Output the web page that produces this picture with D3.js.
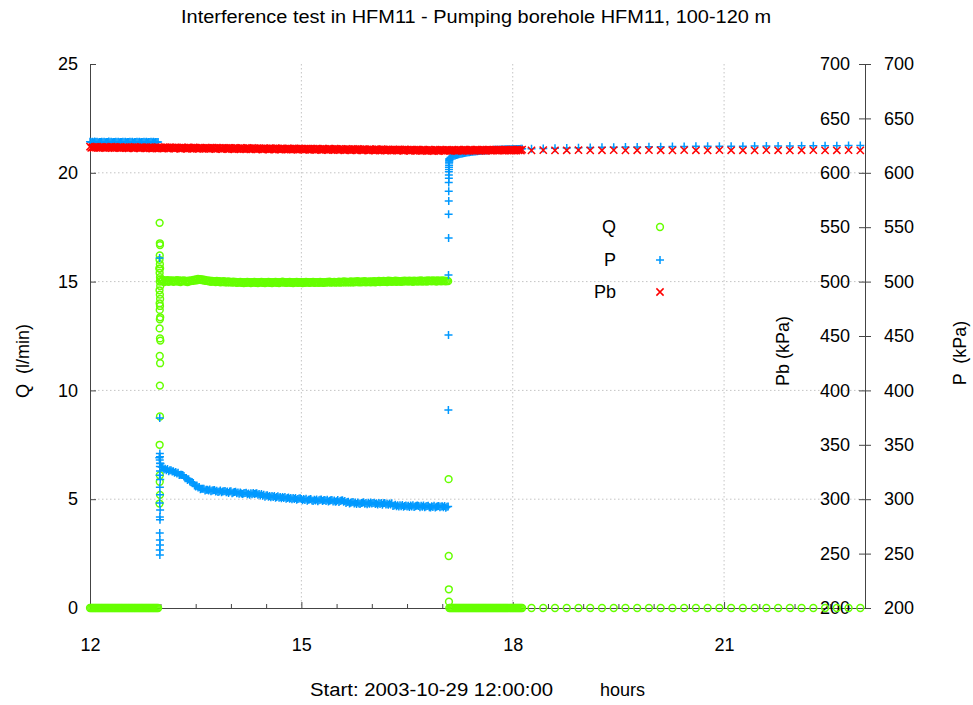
<!DOCTYPE html>
<html><head><meta charset="utf-8">
<script src="https://cdn.jsdelivr.net/npm/d3@7"></script>
<style>body{margin:0;background:#fff}svg text{white-space:pre}</style>
</head><body>
<svg id="c" width="973" height="705"></svg>
<script>
// ---------------- DATA ----------------
const titleText = "Interference test in HFM11 - Pumping borehole HFM11, 100-120 m";
const logStartHour = 12;            // dense log: one reading per minute from 12:00
const xTicks = [12, 15, 18, 21];
const xTickLabels = ["12", "15", "18", "21"];
const xMinorTicks = [12.5,13,13.5,14,14.5,15.5,16,16.5,17,17.5,18.5,19,19.5,20,20.5,21.5,22,22.5];
const qTicks = [0, 5, 10, 15, 20, 25];
const pTicks = [200, 250, 300, 350, 400, 450, 500, 550, 600, 650, 700];

// Q (l/min), one per minute 12:00 .. 18:08
const qDense = [
0,0,0,0,0,0,0,0,0,0, 0,0,0,0,0,0,0,0,0,0, 0,0,0,0,0,0,0,0,0,0,
0,0,0,0,0,0,0,0,0,0, 0,0,0,0,0,0,0,0,0,0, 0,0,0,0,0,0,0,0,0,
15.6,
15.10,15.02,15.08,14.98,15.06,15.01,15.07,14.99,15.05,15.02,
15.06,14.99,15.04,15.01,15.07,15.00,15.05,14.98,15.04,15.02,
15.05,15.00,15.03,14.98,15.04,15.01,15.06,15.03,15.08,15.05,
15.10,15.06,15.12,15.08,15.11,15.07,15.10,15.05,15.08,15.03,
15.06,15.01,15.04,14.99,15.03,15.00,15.02,14.98,15.03,14.99,
15.02,14.97,15.01,14.98,15.02,14.97,15.00,14.96,15.01,14.97,
14.99,14.95,15.00,14.96,14.99,14.94,14.98,14.95,14.99,14.94,
14.98,14.93,14.97,14.94,14.99,14.95,14.98,14.93,14.97,14.95,
14.99,14.94,14.97,14.93,14.98,14.95,14.99,14.94,14.97,14.93,
14.98,14.95,14.99,14.94,14.97,14.93,14.98,14.95,14.99,14.94,
14.97,14.93,14.98,14.96,15.00,14.95,14.98,14.94,14.97,14.95,
14.99,14.94,14.97,14.93,14.98,14.95,14.99,14.94,14.97,14.95,
14.98,14.93,14.97,14.94,14.99,14.95,14.98,14.94,14.97,14.96,
14.99,14.94,14.97,14.95,14.98,14.94,14.99,14.95,14.97,14.94,
14.98,14.95,14.99,14.96,15.00,14.95,14.98,14.96,14.99,14.95,
14.98,14.96,15.00,14.95,14.99,14.96,15.01,14.97,15.00,14.96,
14.99,14.97,15.01,14.96,15.00,14.97,15.01,14.98,15.02,14.97,
15.00,14.97,15.01,14.98,15.02,14.97,15.00,14.98,15.01,14.97,
15.01,14.98,15.02,14.97,15.01,14.99,15.03,14.98,15.02,14.99,
15.03,14.99,15.02,14.98,15.04,15.00,15.03,14.99,15.02,15.00,
15.04,14.99,15.03,15.00,15.02,14.99,15.03,15.00,15.04,15.01,
15.03,15.00,15.04,15.01,15.03,14.99,15.04,15.01,15.03,15.00,
15.04,15.01,15.05,15.00,15.03,15.01,15.04,15.00,15.05,15.02,
15.04,15.01,15.05,15.02,15.04,15.00,15.05,15.02,15.04,15.01,
15.05,15.02,15.04,15.01,15.03,
15.02,
0,0,0,0,0,0,0,0,0,0, 0,0,0,0,0,0,0,0,0,0, 0,0,0,0,0,0,0,0,0,0,
0,0,0,0,0,0,0,0,0,0, 0,0,0,0,0,0,0,0,0,0, 0,0,0,0,0,0,0,0,0,0, 0,0,0
];

// P (kPa), one per minute 12:00 .. 18:08
const pDense = [
628.6,628.0,628.5,628.1,628.7,628.2,628.5,627.9,628.4,628.2,
628.5,628.1,628.6,628.0,628.4,628.2,628.7,628.1,628.5,628.0,
628.4,628.2,628.6,628.0,628.5,628.1,628.4,628.2,628.6,628.1,
628.5,628.0,628.4,628.2,628.6,628.1,628.5,627.9,628.4,628.2,
628.6,628.1,628.5,628.0,628.4,628.2,628.6,628.1,628.5,628.0,
628.4,628.2,628.6,628.1,628.5,628.0,628.4,628.2,628.3,
338,
332.8,329.5,329.3,327.2,328.0,326.7,327.8,325.7,326.5,326.5,
325.5,325.8,324.2,325.0,323.7,324.3,322.2,322.5,322.5,322.3,
321.3,319.2,319.5,317.7,318.3,316.2,316.0,315.5,314.8,312.5,
311.7,312.5,310.7,311.3,309.2,309.5,309.5,309.6,308.1,308.8,
308.8,307.9,308.9,307.2,307.9,308.3,308.5,307.1,307.8,306.6,
307.0,308.0,306.3,307.0,307.4,307.6,306.3,307.0,305.8,307.0,
307.2,305.5,306.2,306.6,306.8,305.4,306.1,305.0,306.2,305.3,
304.7,305.4,305.8,306.0,304.6,305.3,304.2,305.4,304.6,305.6,
304.8,305.2,305.4,304.0,304.7,303.5,304.7,303.2,304.0,302.2,
303.4,303.6,302.2,302.9,301.7,302.9,302.0,303.0,301.3,302.0,
302.7,301.3,302.0,300.8,302.0,301.1,302.1,300.4,301.1,301.5,
300.4,301.1,299.9,301.1,300.2,301.2,299.5,300.2,300.6,300.8,
300.2,299.0,300.2,299.3,300.3,298.6,299.4,299.8,300.1,298.7,
298.4,299.6,298.8,299.8,298.2,299.0,299.4,299.7,298.3,299.1,
299.3,298.4,299.5,297.8,298.6,299.1,299.3,298.0,298.8,297.6,
298.1,299.2,297.5,298.3,298.7,299.0,297.6,298.3,296.4,297.5,
297.7,296.0,296.8,297.2,297.5,296.1,296.9,295.7,297.0,296.1,
295.6,296.4,296.8,297.1,295.8,296.5,295.4,296.7,295.8,296.9,
296.1,296.5,296.8,295.5,296.2,295.1,296.4,295.5,296.6,295.0,
296.2,296.5,295.1,295.9,294.8,296.0,295.2,296.3,293.7,294.3,
295.0,293.6,294.4,293.2,294.5,293.6,294.7,293.1,293.8,294.3,
293.3,294.0,292.9,294.2,293.3,294.4,292.8,293.5,294.0,294.3,
293.7,292.6,293.9,293.0,294.1,292.5,293.3,293.7,294.0,292.7,
292.4,293.6,292.8,293.9,292.3,293.0,293.5,293.8,292.5,293.3,
293.5,292.7,293.8,292.2,293.0,
293.2,
613.0,614.0,614.6,615.1,615.6,616.0,616.4,616.7,617.0,617.3,
617.6,617.8,618.0,618.2,618.4,618.6,618.8,619.0,619.1,619.3,
619.4,619.5,619.6,619.8,619.9,620.0,620.1,620.2,620.3,620.4,
620.5,620.6,620.7,620.8,620.8,620.9,621.0,621.0,621.1,621.1,
621.2,621.2,621.3,621.3,621.4,621.4,621.5,621.5,621.6,621.6,
621.6,621.7,621.7,621.7,621.8,621.8,621.8,621.9,621.9,621.9,
621.9,622.0,622.0
];

// Pb (kPa), one per minute 12:00 .. 18:08
const pbDense = [
624.0,622.9,623.7,622.8,623.9,623.2,624.1,622.8,623.6,623.0,
623.8,622.9,623.5,622.6,623.9,623.1,623.7,622.8,624.0,623.0,
623.6,622.7,623.9,622.9,623.5,622.6,623.8,623.0,623.4,622.8,
623.7,622.6,623.4,622.5,623.6,622.9,623.5,622.4,623.8,622.8,
623.5,622.6,623.3,622.4,623.7,622.8,623.4,622.5,623.6,622.7,
623.4,622.5,623.6,622.3,623.2,622.7,623.5,622.3,623.6,622.6,
623.4,622.4,623.2,622.3,623.5,622.7,623.3,622.2,623.5,622.6,
623.3,622.3,623.1,622.2,623.4,622.6,623.2,622.1,623.4,622.5,
623.2,622.2,623.0,622.1,623.3,622.5,623.1,622.0,623.3,622.4,
623.1,622.1,622.9,621.9,623.2,622.4,623.0,622.0,623.2,622.3,
623.0,622.0,622.8,621.9,623.1,622.3,622.9,621.8,623.1,622.2,
622.9,621.9,622.7,621.8,623.0,622.2,622.8,621.7,623.0,622.1,
622.8,621.8,622.6,621.6,622.9,622.1,622.7,621.7,622.9,622.0,
622.7,621.7,622.5,621.6,622.8,622.0,622.6,621.5,622.8,621.9,
622.6,621.6,622.4,621.5,622.7,621.9,622.5,621.4,622.7,621.8,
622.5,621.5,622.3,621.4,622.6,621.8,622.4,621.3,622.6,621.7,
622.4,621.4,622.2,621.3,622.5,621.7,622.3,621.2,622.5,621.6,
622.3,621.3,622.1,621.2,622.4,621.6,622.2,621.1,622.4,621.5,
622.2,621.2,622.0,621.1,622.3,621.5,622.1,621.0,622.3,621.4,
622.1,621.1,621.9,621.0,622.2,621.4,622.0,620.9,622.2,621.3,
622.0,621.0,621.8,620.9,622.1,621.3,621.9,620.8,622.1,621.2,
621.9,620.9,621.7,620.8,622.0,621.2,621.8,620.7,622.0,621.1,
621.8,620.8,621.6,620.7,621.9,621.1,621.7,620.6,621.9,621.0,
621.7,620.7,621.5,620.6,621.8,621.0,621.6,620.5,621.8,620.9,
621.6,620.6,621.4,620.5,621.7,620.9,621.5,620.4,621.7,620.8,
621.5,620.5,621.3,620.4,621.6,620.8,621.4,620.3,621.6,620.7,
621.4,620.4,621.2,620.3,621.5,620.7,621.3,620.2,621.5,620.6,
621.3,620.3,621.1,620.2,621.4,620.6,621.2,620.1,621.4,620.5,
621.2,620.2,621.0,620.1,621.3,620.5,621.1,620.0,621.3,620.4,
621.1,620.1,620.9,620.0,621.2,620.4,621.0,620.0,621.2,620.3,
621.1,620.1,620.9,620.1,621.2,620.4,621.0,620.1,621.1,620.3,
621.1,620.2,620.9,620.1,621.2,620.5,621.1,620.1,621.2,620.4,
621.2,620.2,621.0,620.2,621.3,620.5,621.1,620.2,621.2,620.4,
621.2,620.3,621.0,620.2,621.3,620.5,621.1,620.2,621.3,620.5,
621.2,620.3,621.1,620.3,621.3,620.6,621.2,620.3,621.3,620.5,
621.3,620.3,621.1,620.3,621.4,620.6,621.2,620.3,621.3,620.5,
621.3,620.4,621.1,620.4,621.4,620.6,621.2,620.4,621.3
];

// fast readings at pump start (minutes after 12:00)
const qStartBurstMin = [59.3,59.5,59.6,59.4,59.2,59.5,59.7,59.3,59.6,59.4,59.8,59.2,59.5,59.7,59.3,59.6,59.4,59.8,59.5,59.3,59.6,59.9,59.4,59.7,59.5,59.6,59.3,59.5,59.4,59.6,59.2];
const qStartBurstVal = [17.7,16.76,16.68,16.2,16.0,15.8,15.6,15.4,15.2,15.0,14.8,14.6,14.4,14.2,14.0,13.88,13.7,13.36,13.27,12.85,12.39,12.29,11.58,11.25,10.22,8.8,7.5,6.1,5.8,5.2,4.8];
const pStartBurstMin = [59.3,59.4,59.5,59.6,59.4,59.7,59.5,59.6,59.3,59.8,59.5,59.6,59.4,59.7,59.5,59.6,59.4,59.5,59.6,59.4,59.5];
const pStartBurstVal = [521.7,374.6,342,339,336,333,330,326,322,318,311,304,296.5,290,283.6,281,269,262.5,258,253.3,248.7];
// fast readings at pump stop
const qStopBurstMin = [305.4,305.5,305.6,305.7];
const qStopBurstVal = [5.92,2.39,0.86,0.29];
const pStopBurstMin = [305.2,305.3,305.3,305.4,305.4,305.5,305.5,305.5,305.6,305.6,305.6,305.7,305.7,305.8,305.8,305.9,305.9,306.0];
const pStopBurstVal = [382,451,506,540,562,574,583,591,595,598,601,603,605,607,609,610,611,612];

// 10-minute readings after 18:16
const sparseTimes = ["18:16","18:26","18:36","18:46","18:56","19:06","19:16","19:26","19:36","19:46","19:56","20:06","20:16","20:26","20:36","20:46","20:56","21:06","21:16","21:26","21:36","21:46","21:56","22:06","22:16","22:26","22:36","22:46","22:56"];
const qSparse = [0,0,0,0,0,0,0,0,0,0,0,0,0,0,0,0,0,0,0,0,0,0,0,0,0,0,0,0,0];
const pSparse = [622.0,622.3,622.6,622.8,623.0,623.2,623.4,623.5,623.7,623.8,623.9,624.0,624.1,624.2,624.3,624.3,624.4,624.5,624.5,624.6,624.6,624.7,624.7,624.8,624.8,624.9,624.9,625.0,625.0];
const pbSparse = [620.6,620.8,620.6,620.7,620.9,620.6,620.7,620.8,620.6,620.7,620.8,620.7,620.6,620.8,620.7,620.6,620.8,620.7,620.7,620.6,620.8,620.7,620.6,620.7,620.8,620.6,620.7,620.8,620.6];

// ---------------- DRAW ----------------
const W = 973, H = 705;
const FONT = "'Liberation Sans', Arial, Helvetica, sans-serif";
const FS = 18;
const C_Q = "#66ff00", C_P = "#0099ff", C_PB = "#ff0000", C_AX = "#444";
const SW = 1.5;

const svg = d3.select("#c");
svg.append("rect").attr("width", W).attr("height", H).attr("fill", "#fff");

const x = d3.scaleLinear().domain([12, 23]).range([90, 865]);
const yQ = d3.scaleLinear().domain([0, 25]).range([608, 64]);
const yP = d3.scaleLinear().domain([200, 700]).range([608, 64]);

// grid
const grid = svg.append("g").attr("stroke", "#c4c4c4").attr("stroke-width", 1).attr("stroke-dasharray", "1.5,2.5");
grid.selectAll("line.gh").data(qTicks.filter(v => v > 0 && v < 25)).join("line").attr("class", "gh")
  .attr("x1", x(12)).attr("x2", x(23)).attr("y1", d => yQ(d)).attr("y2", d => yQ(d));
grid.selectAll("line.gv").data(xTicks.filter(v => v > 12)).join("line").attr("class", "gv")
  .attr("x1", d => x(d)).attr("x2", d => x(d)).attr("y1", yQ(25)).attr("y2", yQ(0));

function styleAxis(g) {
  g.selectAll("path.domain").attr("stroke", C_AX);
  g.selectAll(".tick line").attr("stroke", C_AX);
  g.selectAll("text").attr("font-family", FONT).attr("font-size", FS).attr("fill", "#000");
  g.attr("font-family", null).attr("font-size", null);
}

// axes
svg.append("g").attr("transform", `translate(${x(12)},0)`)
  .call(d3.axisLeft(yQ).tickValues(qTicks).tickSize(-6).tickSizeOuter(0).tickPadding(12).tickFormat(d3.format("d")))
  .call(styleAxis);
svg.append("g").attr("transform", `translate(0,${yQ(0)})`)
  .call(d3.axisBottom(x).tickValues(xMinorTicks).tickSize(-4).tickSizeOuter(0).tickFormat(""))
  .call(styleAxis);
svg.append("g").attr("transform", `translate(0,${yQ(0)})`)
  .call(d3.axisBottom(x).tickValues(xTicks).tickSize(-6).tickSizeOuter(0).tickPadding(30).tickFormat((d, i) => xTickLabels[i]))
  .call(styleAxis);
svg.append("g").attr("transform", `translate(${x(23)},0)`)
  .call(d3.axisLeft(yP).tickValues(pTicks).tickSize(6).tickSizeOuter(0).tickPadding(9).tickFormat(d3.format("d")))
  .call(styleAxis);
svg.append("g").attr("transform", `translate(${x(23)},0)`)
  .call(d3.axisRight(yP).tickValues(pTicks).tickSize(6).tickSizeOuter(0).tickPadding(13).tickFormat(d3.format("d")))
  .call(styleAxis);

// data assembly
const toH = m => logStartHour + m / 60;
const hm = s => { const [h, m] = s.split(":").map(Number); return h + m / 60; };
const dense = arr => arr.map((v, i) => ({ t: toH(i), v }));
const burst = (mins, vals) => mins.map((m, i) => ({ t: toH(m), v: vals[i] }));
const sparse = vals => sparseTimes.map((s, i) => ({ t: hm(s), v: vals[i] }));

const qData = [...dense(qDense), ...burst(qStartBurstMin, qStartBurstVal), ...burst(qStopBurstMin, qStopBurstVal), ...sparse(qSparse)];
const pData = [...dense(pDense), ...burst(pStartBurstMin, pStartBurstVal), ...burst(pStopBurstMin, pStopBurstVal), ...sparse(pSparse)];
const pbData = [...dense(pbDense), ...sparse(pbSparse)];

const PLUS = "M-4,0H4M0,-4V4";
const CROSS = "M-3.6,-3.6L3.6,3.6M-3.6,3.6L3.6,-3.6";

svg.append("g").attr("fill", "none").attr("stroke", C_Q).attr("stroke-width", SW)
  .selectAll("circle").data(qData).join("circle")
  .attr("cx", d => x(d.t)).attr("cy", d => yQ(d.v)).attr("r", 3.4);
svg.append("g").attr("fill", "none").attr("stroke", C_P).attr("stroke-width", SW)
  .selectAll("path").data(pData).join("path")
  .attr("d", PLUS).attr("transform", d => `translate(${x(d.t)},${yP(d.v)})`);
svg.append("g").attr("fill", "none").attr("stroke", C_PB).attr("stroke-width", SW)
  .selectAll("path").data(pbData).join("path")
  .attr("d", CROSS).attr("transform", d => `translate(${x(d.t)},${yP(d.v)})`);

// legend
const legend = [
  { label: "Q", y: 227, kind: "circle", color: C_Q },
  { label: "P", y: 260, kind: "plus", color: C_P },
  { label: "Pb", y: 292, kind: "cross", color: C_PB }
];
const lg = svg.append("g");
legend.forEach(L => {
  lg.append("text").attr("x", 616).attr("y", L.y).attr("dy", "0.35em").attr("text-anchor", "end")
    .attr("font-family", FONT).attr("font-size", FS).text(L.label);
  if (L.kind === "circle") lg.append("circle").attr("cx", 660).attr("cy", L.y).attr("r", 3.4)
    .attr("fill", "none").attr("stroke", L.color).attr("stroke-width", SW);
  else lg.append("path").attr("d", L.kind === "plus" ? PLUS : CROSS).attr("transform", `translate(660,${L.y})`)
    .attr("fill", "none").attr("stroke", L.color).attr("stroke-width", SW);
});

// titles
const txt = (s, xx, yy, opts = {}) => {
  const t = svg.append("text").attr("x", xx).attr("y", yy)
    .attr("font-family", FONT).attr("font-size", opts.fs || FS).attr("text-anchor", opts.anchor || "middle")
    .attr("dy", "0.35em").attr("transform", opts.rot ? `rotate(-90,${xx},${yy})` : null).text(s);
  if (opts.len) t.attr("textLength", opts.len).attr("lengthAdjust", "spacingAndGlyphs");
  return t;
};
txt(titleText, 476, 17, { len: 590 });
txt("Q  (l/min)", 23, 361, { rot: true });
txt("Pb (kPa)", 783, 351, { rot: true });
txt("P  (kPa)", 960, 353, { rot: true });
txt("Start: 2003-10-29 12:00:00", 310, 690, { anchor: "start", len: 243 });
txt("hours", 600, 690, { anchor: "start" });
</script>
</body></html>
